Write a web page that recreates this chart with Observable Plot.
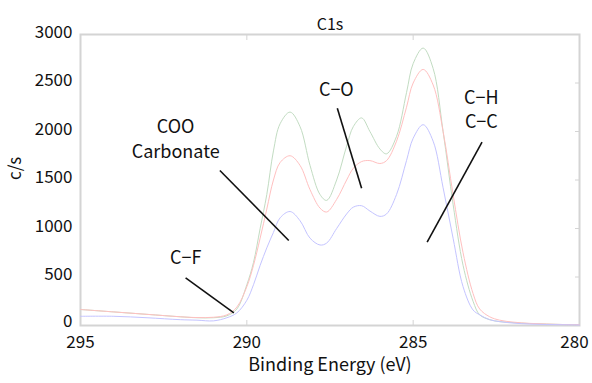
<!DOCTYPE html>
<html>
<head>
<meta charset="utf-8">
<script src="https://cdn.jsdelivr.net/npm/d3@7"></script>
<script src="https://cdn.jsdelivr.net/npm/@observablehq/plot@0.6"></script>
<style>
  html, body { margin: 0; padding: 0; background: #fff; }
  #chart svg { display: block; }
</style>
</head>
<body>
<div id="chart"></div>
<script>
// Binding energy grid (eV)
const energy = [295, 294, 293, 292, 291.5, 291, 290.6, 290.3, 290, 289.8, 289.6, 289.4, 289.2, 289, 288.7, 288.4, 288.1, 287.8, 287.6, 287.3, 287, 286.8, 286.55, 286.3, 286, 285.8, 285.5, 285.2, 285, 284.7, 284.4, 284.1, 283.8, 283.5, 283.2, 283, 282.7, 282.4, 282, 281.5, 281, 280.5, 280];
const greenSeries = [165, 140, 115, 90, 80, 80, 100, 170, 420, 650, 1000, 1350, 1800, 2080, 2200, 2050, 1650, 1350, 1290, 1500, 1850, 2050, 2140, 2000, 1820, 1770, 1950, 2400, 2700, 2860, 2650, 2000, 1250, 620, 250, 110, 60, 40, 30, 20, 15, 10, 8];
const redSeries = [165, 140, 115, 90, 82, 85, 110, 190, 400, 620, 900, 1200, 1500, 1680, 1750, 1650, 1400, 1210, 1170, 1300, 1500, 1620, 1690, 1700, 1670, 1700, 1900, 2250, 2500, 2640, 2480, 2000, 1350, 750, 330, 170, 90, 55, 35, 22, 15, 10, 8];
const blueSeries = [95, 95, 80, 60, 55, 48, 80, 130, 260, 420, 620, 800, 960, 1110, 1175, 1080, 900, 830, 850, 1000, 1150, 1220, 1235, 1180, 1125, 1150, 1350, 1700, 1930, 2070, 1900, 1420, 900, 400, 160, 110, 60, 40, 25, 15, 10, 8, 5];

const xTicks = [295, 290, 285, 280];
const yTicks = [0, 500, 1000, 1500, 2000, 2500, 3000];

// Annotations
const noteText = ["C−F", "COO", "Carbonate", "C−O", "C−H", "C−C"];
const noteE = [291.84, 292.14, 292.14, 287.31, 282.95, 282.95];
const noteV = [691, 2041, 1784, 2423, 2340, 2093];
const noteAnchor = ["middle", "start", "start", "middle", "middle", "middle"];

const leaderE1 = [291.84, 290.81, 287.28, 282.93];
const leaderV1 = [492, 1598, 2240, 1890];
const leaderE2 = [290.39, 288.74, 286.55, 284.58];
const leaderV2 = [131, 876, 1415, 859];

const seriesColors = {green: "#c2dcc2", red: "#ffc0c0", blue: "#c4c4ff"};

const rows = [];
[["green", greenSeries], ["red", redSeries], ["blue", blueSeries]].forEach(([name, vals]) => {
  energy.forEach((e, i) => rows.push({series: name, e, v: vals[i]}));
});
const notes = noteText.map((t, i) => ({t, e: noteE[i], v: noteV[i], a: noteAnchor[i]}));
const leaders = leaderE1.map((_, i) => ({x1: leaderE1[i], y1: leaderV1[i], x2: leaderE2[i], y2: leaderV2[i]}));

const font = "'Noto Sans CJK JP', 'Noto Sans', sans-serif";
const grey = "#d4d4d4";

const plot = Plot.plot({
  width: 592,
  height: 383,
  marginTop: 34,
  marginLeft: 80,
  marginRight: 13,
  marginBottom: 58,
  style: {fontFamily: font, fontSize: "17px", color: "#111", background: "#fff"},
  x: {domain: [295, 280], ticks: xTicks},
  y: {domain: [0, 3000], ticks: yTicks},
  marks: [
    Plot.frame({stroke: grey, strokeWidth: 2}),
    // labels
    Plot.axisX(xTicks.slice(0, 3), {anchor: "bottom", tickSize: 0, tickPadding: 10, label: null, fontSize: 17, tickFormat: d => String(d)}),
    Plot.axisX(xTicks.slice(3), {anchor: "bottom", tickSize: 0, tickPadding: 10, dx: -5, label: null, fontSize: 17, tickFormat: d => String(d)}),
    Plot.axisY(yTicks.slice(1), {anchor: "left", tickSize: 0, tickPadding: 8, dy: -2, label: null, fontSize: 17, tickFormat: d => String(d)}),
    Plot.axisY(yTicks.slice(0, 1), {anchor: "left", tickSize: 0, tickPadding: 8, dy: -4, label: null, fontSize: 17, tickFormat: d => String(d)}),
    // inward ticks
    Plot.axisX(xTicks.slice(1, 3), {anchor: "bottom", tickSize: 5, dy: -5, fill: "none", stroke: grey, label: null}),
    Plot.axisX(xTicks.slice(1, 3), {anchor: "top", tickSize: 5, dy: 5, fill: "none", stroke: grey, label: null}),
    Plot.axisY(yTicks.slice(1, 6), {anchor: "right", tickSize: 5, dx: -5, fill: "none", stroke: grey, label: null}),
    Plot.line(rows, {x: "e", y: "v", z: "series", stroke: d => seriesColors[d.series], strokeWidth: 1, curve: "catmull-rom"}),
    Plot.link(leaders, {x1: "x1", y1: "y1", x2: "x2", y2: "y2", stroke: "#111", strokeWidth: 1.6}),
    Plot.text(notes, {x: "e", y: "v", text: "t", textAnchor: d => d.a, fontSize: 18, fill: "#111"}),
    Plot.text(["C1s"], {frameAnchor: "top", dy: -16, fontSize: 16, fill: "#111"}),
    Plot.text(["c/s"], {frameAnchor: "left", dx: -65, rotate: -90, fontSize: 17, fill: "#111"}),
    Plot.text(["Binding Energy (eV)"], {frameAnchor: "bottom", dy: 45, fontSize: 18, fill: "#111"})
  ]
});
document.getElementById("chart").appendChild(plot);
</script>
</body>
</html>
